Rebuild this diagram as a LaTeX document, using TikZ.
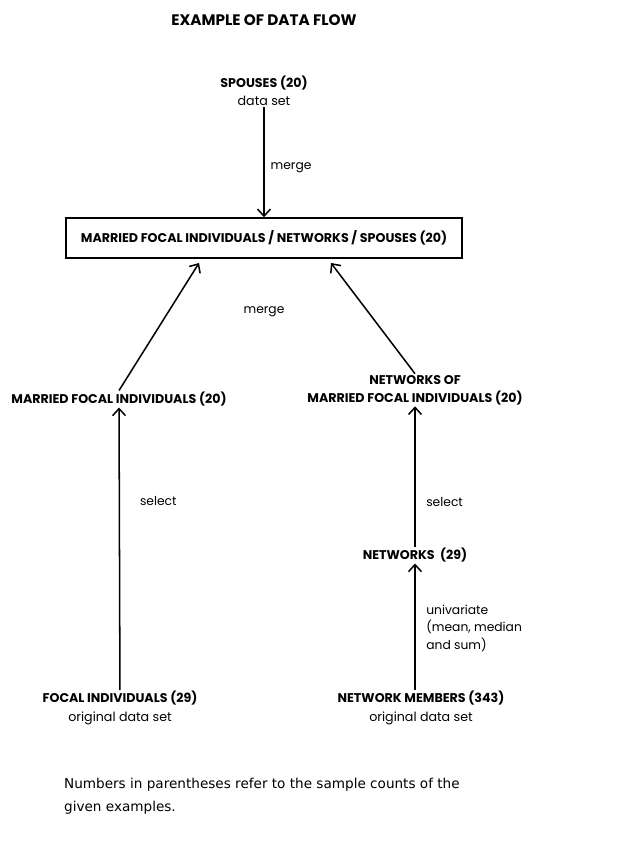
\documentclass[tikz,border=0pt]{standalone}
\usepackage{fontspec}
\setsansfont{Poppins}
\newfontfamily\notefont{DejaVu Sans}
\usetikzlibrary{positioning}
\usetikzlibrary{arrows.meta}

\begin{document}
\begin{tikzpicture}[x=0.03cm,y=-0.03cm]
	\tikzstyle{Caps}  = [font=\sffamily\bfseries\fontsize{10.8}{15.5}\selectfont, inner sep=1pt]
	\tikzstyle{Lower} = [font=\sffamily\fontsize{10.5}{15}\selectfont, inner sep=1pt]
	\tikzstyle{Flow}  = [->, >={Straight Barb[length=6pt,width=11pt]}, line width=1.3pt]
	\useasboundingbox (0,0) rectangle (628,849);
	\node[font=\sffamily\bfseries\fontsize{13}{15}\selectfont] (title) at (264,20) {EXAMPLE OF DATA FLOW};
	\node[Caps, align=center] (spouses) at (264,91) {SPOUSES (20)\\{\mdseries data set}};
	\node[Caps, draw, line width=1.3pt, minimum width=11.88cm, minimum height=1.2cm] (merged) at (264,238)
		{MARRIED FOCAL INDIVIDUALS / NETWORKS / SPOUSES (20)};
	\coordinate (mergedL) at (199,263);
	\coordinate (mergedR) at (331,263);
	\node[Lower] (merge) at (264,312) {merge};
	\node[Caps] (mfi) at (119,399) {MARRIED FOCAL INDIVIDUALS (20)};
	\node[Caps, align=center] (nmfi) at (415,390) {NETWORKS OF\\MARRIED FOCAL INDIVIDUALS (20)};
	\node[Caps] (netw) at (415,555) {NETWORKS\ \ (29)};
	\node[Caps, align=center] (fi) at (120,708) {FOCAL INDIVIDUALS (29)\\{\mdseries original data set}};
	\node[Caps, align=center] (nm) at (421,708) {NETWORK MEMBERS (343)\\{\mdseries original data set}};
	\node[font=\notefont\fontsize{11.6}{19.5}\selectfont, align=left, anchor=north west] (note) at (60,774)
		{Numbers in parentheses refer to the sample counts of the\\given examples.};
	\draw[Flow] (spouses) -- node[Lower, right=4pt, pos=0.55] {merge} (merged);
	\draw[Flow] (mfi.north) -- (mergedL);
	\draw[Flow] (nmfi.north) -- (mergedR);
	\draw[Flow] (fi) -- node[Lower, right=16pt, pos=0.67] {select} (mfi);
	\draw[Flow] (netw) -- node[Lower, right=8pt, pos=0.32] {select} (nmfi);
	\draw[Flow] (netw |- nm.north) -- node[Lower, right=8pt, align=left, pos=0.49] {univariate\\(mean, median\\ and sum)} (netw);
\end{tikzpicture}
\end{document}
